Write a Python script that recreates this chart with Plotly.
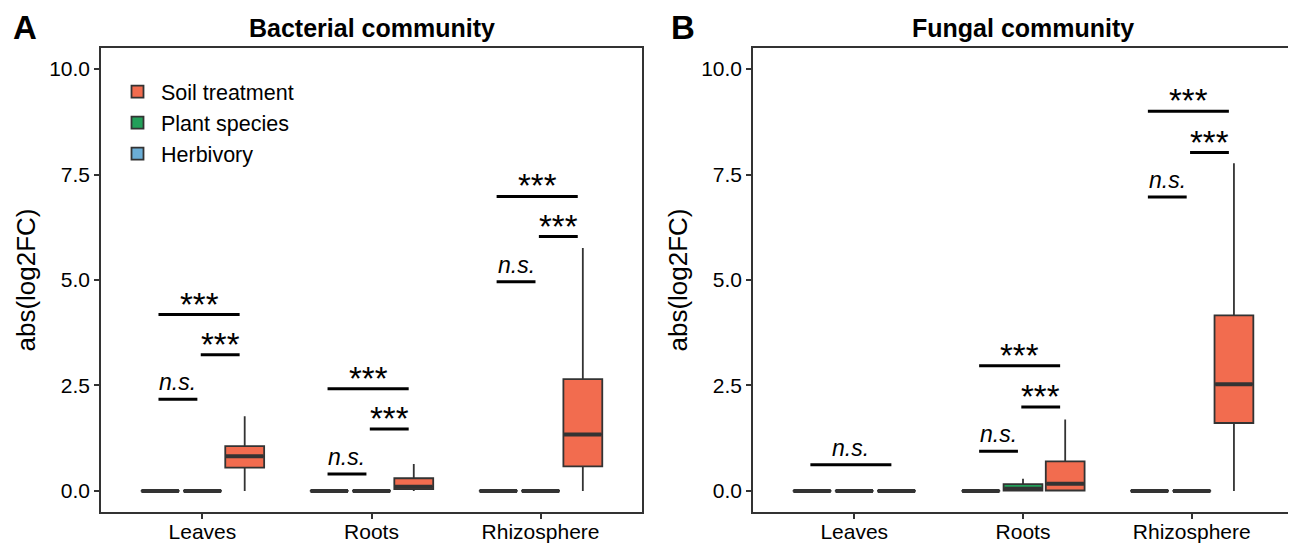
import plotly.graph_objects as go

# ---------------- data ----------------
categories = ["Leaves", "Roots", "Rhizosphere"]
groups = ["Herbivory", "Plant species", "Soil treatment"]
colors = {"Herbivory": "#6BAED6", "Plant species": "#23A05A", "Soil treatment": "#F26C4F"}

# Panel A: bacterial community  (per category: Leaves, Roots, Rhizosphere)
A_herb_low = [0, 0, 0]; A_herb_q1 = [0, 0, 0]; A_herb_med = [0, 0, 0]; A_herb_q3 = [0, 0, 0]; A_herb_up = [0, 0, 0]
A_plant_low = [0, 0, 0]; A_plant_q1 = [0, 0, 0]; A_plant_med = [0, 0, 0]; A_plant_q3 = [0, 0, 0]; A_plant_up = [0, 0, 0]
A_soil_low = [0, 0, 0]
A_soil_q1 = [0.55, 0.04, 0.58]
A_soil_med = [0.82, 0.10, 1.34]
A_soil_q3 = [1.06, 0.30, 2.65]
A_soil_up = [1.77, 0.64, 5.76]

# Panel B: fungal community
B_herb_low = [0, 0, 0]; B_herb_q1 = [0, 0, 0]; B_herb_med = [0, 0, 0]; B_herb_q3 = [0, 0, 0]; B_herb_up = [0, 0, 0]
B_plant_low = [0, 0, 0]
B_plant_q1 = [0, 0.01, 0]
B_plant_med = [0, 0.05, 0]
B_plant_q3 = [0, 0.16, 0]
B_plant_up = [0, 0.29, 0]
B_soil_low = [0, 0, 0]
B_soil_q1 = [0, 0.01, 1.61]
B_soil_med = [0, 0.17, 2.53]
B_soil_q3 = [0, 0.70, 4.16]
B_soil_up = [0, 1.69, 7.77]

# significance brackets: (category index, group from, group to, y, label)
A_brackets = [
    (0, 0, 1, 2.17, "n.s."), (0, 1, 2, 3.23, "***"), (0, 0, 2, 4.18, "***"),
    (1, 0, 1, 0.40, "n.s."), (1, 1, 2, 1.47, "***"), (1, 0, 2, 2.42, "***"),
    (2, 0, 1, 4.96, "n.s."), (2, 1, 2, 6.03, "***"), (2, 0, 2, 6.98, "***"),
]
B_brackets = [
    (0, 0, 2, 0.62, "n.s."),
    (1, 0, 1, 0.94, "n.s."), (1, 1, 2, 1.99, "***"), (1, 0, 2, 2.97, "***"),
    (2, 0, 1, 6.97, "n.s."), (2, 1, 2, 8.02, "***"), (2, 0, 2, 9.00, "***"),
]

y_ticks = [0, 2.5, 5, 7.5, 10]
y_ticklabels = ["0.0", "2.5", "5.0", "7.5", "10.0"]

# ---------------- layout constants ----------------
DODGE = 0.25
BOX_W = 0.23
FONT = "Liberation Sans, Arial, Helvetica, sans-serif"
EDGE = "#333333"
PAGE_PAD = 8                      # browser default body margin
W, H = 1296 - PAGE_PAD, 543 - PAGE_PAD
ML, MR, MT, MB = 101 - PAGE_PAD, 3, 48 - PAGE_PAD, 31
PW = W - ML - MR

panels = {
    "A": dict(xa="x", ya="y", stats={
        "Herbivory": (A_herb_low, A_herb_q1, A_herb_med, A_herb_q3, A_herb_up),
        "Plant species": (A_plant_low, A_plant_q1, A_plant_med, A_plant_q3, A_plant_up),
        "Soil treatment": (A_soil_low, A_soil_q1, A_soil_med, A_soil_q3, A_soil_up),
    }, brackets=A_brackets),
    "B": dict(xa="x2", ya="y2", stats={
        "Herbivory": (B_herb_low, B_herb_q1, B_herb_med, B_herb_q3, B_herb_up),
        "Plant species": (B_plant_low, B_plant_q1, B_plant_med, B_plant_q3, B_plant_up),
        "Soil treatment": (B_soil_low, B_soil_q1, B_soil_med, B_soil_q3, B_soil_up),
    }, brackets=B_brackets),
}

fig = go.Figure()

def offset(g):
    return (g - 1) * DODGE

for pname, p in panels.items():
    for gi, g in enumerate(groups):
        low, q1, med, q3, up = p["stats"][g]
        xs = [ci + offset(gi) for ci in range(len(categories))]
        fig.add_trace(go.Box(
            x=xs, lowerfence=low, q1=q1, median=med, q3=q3, upperfence=up,
            name=g, legendgroup=g, showlegend=(pname == "A"),
            fillcolor=colors[g], line=dict(color=EDGE, width=1.8),
            width=BOX_W, whiskerwidth=0, boxpoints=False, hoverinfo="skip",
            xaxis=p["xa"], yaxis=p["ya"],
        ))
    # thick median lines (ggplot fatten)
    for gi, g in enumerate(groups):
        med = p["stats"][g][2]
        mx, my = [], []
        for ci in range(len(categories)):
            c = ci + offset(gi)
            mx += [c - BOX_W / 2 + 0.004, c + BOX_W / 2 - 0.004, None]
            my += [med[ci], med[ci], None]
        fig.add_trace(go.Scatter(x=mx, y=my, mode="lines", line=dict(color=EDGE, width=4),
                                 showlegend=False, hoverinfo="skip",
                                 xaxis=p["xa"], yaxis=p["ya"]))
    # significance brackets
    for (ci, g1, g2, yv, lab) in p["brackets"]:
        x0 = ci + offset(g1) - 0.01
        x1 = ci + offset(g2) - 0.03
        fig.add_trace(go.Scatter(x=[x0, x1], y=[yv, yv], mode="lines",
                                 line=dict(color="black", width=3),
                                 showlegend=False, hoverinfo="skip",
                                 xaxis=p["xa"], yaxis=p["ya"]))
        italic = lab == "n.s."
        fig.add_annotation(
            x=(x0 + x1) / 2, y=yv, xref=p["xa"], yref=p["ya"],
            text=("<i>%s</i>" % lab) if italic else lab,
            showarrow=False, yanchor="bottom", yshift=2 if italic else -10,
            font=dict(family=FONT, size=23 if italic else 33, color="black"),
        )

axis_common = dict(
    showline=True, linecolor=EDGE, linewidth=1.5, mirror=True,
    ticks="outside", ticklen=5, tickcolor=EDGE, tickwidth=1.5,
    showgrid=False, zeroline=False, automargin=False,
    tickfont=dict(family=FONT, size=21, color="black"),
)

dom_A = [0.0, (642 - 101) / PW]
dom_B = [(753 - 101) / PW, 1.0]

ytitle = dict(text="abs(log2FC)", font=dict(family=FONT, size=26, color="black"), standoff=6)

fig.update_layout(
    width=W, height=H,
    margin=dict(l=ML, r=MR, t=MT, b=MB),
    paper_bgcolor="white", plot_bgcolor="white",
    showlegend=True,
    legend=dict(x=(114 - 101) / PW, y=0.95, xanchor="left", yanchor="top",
                traceorder="reversed", tracegroupgap=5, itemwidth=37,
                font=dict(family=FONT, size=21.5, color="black"),
                bgcolor="rgba(0,0,0,0)"),
    xaxis=dict(domain=dom_A, range=[-0.6, 2.6], tickvals=[0, 1, 2], ticktext=categories,
               ticklabelstandoff=-5, **axis_common),
    xaxis2=dict(domain=dom_B, range=[-0.6, 2.6], tickvals=[0, 1, 2], ticktext=categories, anchor="y2",
                ticklabelstandoff=-5, **axis_common),
    yaxis=dict(range=[-0.5, 10.5], tickvals=y_ticks, ticktext=y_ticklabels, title=ytitle, **axis_common),
    yaxis2=dict(range=[-0.5, 10.5], tickvals=y_ticks, ticktext=y_ticklabels, anchor="x2", title=ytitle, **axis_common),
)

# panel titles and tags
for txt, dom in (("Bacterial community", dom_A), ("Fungal community", dom_B)):
    fig.add_annotation(text="<b>%s</b>" % txt, x=(dom[0] + dom[1]) / 2, y=1, xref="paper", yref="paper",
                       xanchor="center", yanchor="bottom", yshift=4, showarrow=False,
                       font=dict(family=FONT, size=25, color="black"))
for tag, px in (("A", 25), ("B", 683)):
    fig.add_annotation(text="<b>%s</b>" % tag, x=(px - 101) / PW, y=1, xref="paper", yref="paper",
                       xanchor="center", yanchor="bottom", yshift=0, showarrow=False,
                       font=dict(family=FONT, size=33, color="black"))

fig.write_html("out.html")
